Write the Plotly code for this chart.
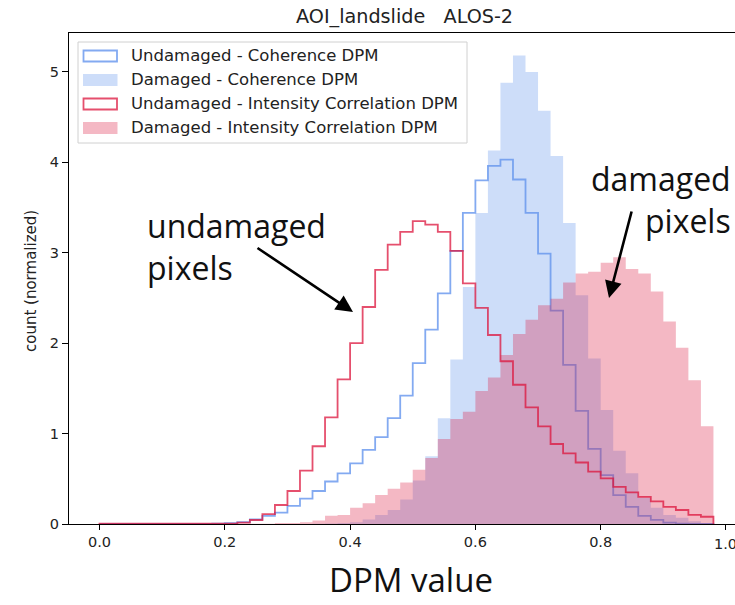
import plotly.graph_objects as go

# ---------------- data (bin width 0.02, bins 0.00 .. 0.98) ----------------
bin_width = 0.02
n_bins = 49
edges = [round(i * bin_width, 2) for i in range(n_bins + 1)]

undamaged_coherence = [0, 0, 0, 0, 0, 0, 0, 0, 0, 0.003,
                       0.01, 0.02, 0.05, 0.09, 0.125, 0.2, 0.28, 0.365, 0.47, 0.56,
                       0.67, 0.82, 0.96, 1.17, 1.42, 1.78, 2.15, 2.55, 3.02, 3.44,
                       3.80, 3.96, 4.03, 3.81, 3.44, 2.99, 2.36, 1.76, 1.25, 0.83,
                       0.54, 0.32, 0.19, 0.09, 0.045, 0.015, 0.005, 0.002, 0.001]

damaged_coherence = [0, 0, 0, 0, 0, 0, 0, 0, 0, 0,
                     0, 0, 0, 0, 0, 0, 0, 0.003, 0.005, 0.01,
                     0.02, 0.05, 0.10, 0.155, 0.27, 0.48, 0.75, 1.17, 1.82, 2.62,
                     3.44, 4.13, 4.88, 5.18, 5.00, 4.57, 4.07, 3.33, 2.53, 1.83,
                     1.26, 0.81, 0.56, 0.29, 0.18, 0.10, 0.07, 0.03, 0.01]

undamaged_intensity = [0.004, 0.004, 0.004, 0.004, 0.004, 0.004, 0.004, 0.004, 0.004, 0.004,
                       0.005, 0.015, 0.044, 0.11, 0.21, 0.365, 0.59, 0.86, 1.18, 1.60,
                       2.00, 2.40, 2.81, 3.09, 3.23, 3.35, 3.31, 3.23, 3.02, 2.66,
                       2.39, 2.09, 1.80, 1.54, 1.29, 1.08, 0.885, 0.78, 0.68, 0.58,
                       0.505, 0.41, 0.35, 0.30, 0.25, 0.19, 0.155, 0.10, 0.08]

damaged_intensity = [0.003, 0.003, 0.003, 0.003, 0.003, 0.003, 0.003, 0.003, 0.003, 0.003,
                     0.003, 0.003, 0.003, 0.003, 0.01, 0.01, 0.02, 0.04, 0.09, 0.10,
                     0.18, 0.23, 0.32, 0.39, 0.46, 0.60, 0.73, 0.94, 1.16, 1.24,
                     1.47, 1.62, 1.87, 2.10, 2.26, 2.42, 2.49, 2.67, 2.77, 2.79,
                     2.89, 2.95, 2.82, 2.77, 2.57, 2.24, 1.95, 1.59, 1.08]

series_names = ["Undamaged - Coherence DPM", "Damaged - Coherence DPM",
                "Undamaged - Intensity Correlation DPM", "Damaged - Intensity Correlation DPM"]
x_ticks = [0.0, 0.2, 0.4, 0.6, 0.8, 1.0]
x_tick_labels = ["0.0", "0.2", "0.4", "0.6", "0.8", "1.0"]
y_ticks = [0, 1, 2, 3, 4, 5]

# ---------------- styles ----------------
BLUE_LINE = "rgba(100,149,237,0.80)"
BLUE_FILL = "rgba(100,149,237,0.32)"
RED_LINE = "rgba(220,20,60,0.75)"
RED_FILL = "rgba(220,20,60,0.30)"
FONT = "DejaVu Sans"
BIG = "Open Sans"
TICK_SIZE = 14.5


def step_xy(values):
    xs = [edges[0]] + edges
    ys = [0] + list(values) + [0]
    return xs, ys


fig = go.Figure()

specs = [
    (undamaged_coherence, "line", BLUE_LINE),
    (damaged_coherence, "fill", BLUE_FILL),
    (undamaged_intensity, "line", RED_LINE),
    (damaged_intensity, "fill", RED_FILL),
]
for (vals, kind, col), name in zip(specs, series_names):
    xs, ys = step_xy(vals)
    if kind == "line":
        fig.add_trace(go.Scatter(x=xs, y=ys, mode="lines", name=name,
                                 line=dict(color=col, width=1.8, shape="hv"),
                                 showlegend=False, hoverinfo="skip"))
    else:
        fig.add_trace(go.Scatter(x=xs, y=ys, mode="lines", name=name,
                                 line=dict(color="rgba(0,0,0,0)", width=0, shape="hv"),
                                 fill="tozeroy", fillcolor=col,
                                 showlegend=False, hoverinfo="skip"))

# ---------------- layout geometry ----------------
W, H = 735, 605
L, R, T, B = 69, 0, 33, 81
pw, ph = W - L - R, H - T - B


def px(xpix):
    return (xpix - L) / pw


def py(ypix):
    return (H - B - ypix) / ph


shapes = []
annotations = []

# legend box
shapes.append(dict(type="rect", xref="paper", yref="paper",
                   x0=px(78), x1=px(467), y0=py(143), y1=py(42),
                   line=dict(color="#d0d0d0", width=1), fillcolor="rgba(255,255,255,0.85)",
                   layer="above"))
rows = [56, 80, 104, 128]
legend_styles = [("line", BLUE_LINE), ("fill", BLUE_FILL), ("line", RED_LINE), ("fill", RED_FILL)]
for (kind, col), name, ry in zip(legend_styles, series_names, rows):
    if kind == "line":
        shapes.append(dict(type="rect", xref="paper", yref="paper",
                           x0=px(83.5), x1=px(117), y0=py(ry + 5.5), y1=py(ry - 5.5),
                           line=dict(color=col, width=1.8), fillcolor="rgba(0,0,0,0)",
                           layer="above"))
    else:
        shapes.append(dict(type="rect", xref="paper", yref="paper",
                           x0=px(83), x1=px(117.5), y0=py(ry + 6), y1=py(ry - 6),
                           line=dict(width=0), fillcolor=col, layer="above"))
    annotations.append(dict(text=name, xref="paper", yref="paper", x=px(129), y=py(ry),
                            xanchor="left", yanchor="middle", showarrow=False,
                            font=dict(family=FONT, size=16.5, color="#222222")))

# title
annotations.append(dict(text="AOI_landslide   ALOS-2", xref="paper", yref="paper",
                        x=px(405), y=py(16.5), xanchor="center", yanchor="middle",
                        showarrow=False, font=dict(family=FONT, size=19.2, color="#222222")))
# y label
annotations.append(dict(text="count (normalized)", xref="paper", yref="paper",
                        x=px(31), y=py(281), xanchor="center", yanchor="middle",
                        textangle=-90, showarrow=False,
                        font=dict(family=FONT, size=15, color="#222222")))
# x label
annotations.append(dict(text="DPM value", xref="paper", yref="paper",
                        x=px(411), y=py(604), xanchor="center", yanchor="bottom",
                        showarrow=False, font=dict(family=BIG, size=33, color="#111111")))
# last x tick label (partly cut by the right edge, as in the original)
annotations.append(dict(text=x_tick_labels[-1], xref="x", yref="paper", x=x_ticks[-1],
                        y=py(544), xanchor="center", yanchor="middle", showarrow=False,
                        font=dict(family=FONT, size=TICK_SIZE, color="#222222")))
# callout texts
annotations.append(dict(text="undamaged<br>pixels", xref="paper", yref="paper",
                        x=px(145), y=py(246), xanchor="left", yanchor="middle", align="left",
                        showarrow=False, font=dict(family=BIG, size=32, color="#111111")))
annotations.append(dict(text="damaged<br>pixels", xref="paper", yref="paper",
                        x=px(733), y=py(200), xanchor="right", yanchor="middle", align="right",
                        showarrow=False, font=dict(family=BIG, size=32, color="#111111")))
# arrows
for tip, tail in [((353, 312), (256, 247)), ((609, 298), (632, 210))]:
    annotations.append(dict(text="", xref="paper", yref="paper", x=px(tip[0]), y=py(tip[1]),
                            ax=tail[0] - tip[0], ay=tail[1] - tip[1], showarrow=True,
                            arrowhead=2, arrowsize=1.3, arrowwidth=2.6, arrowcolor="black",
                            standoff=0))

fig.update_layout(
    width=W, height=H, autosize=False,
    margin=dict(l=L, r=R, t=T, b=B, pad=0),
    paper_bgcolor="white", plot_bgcolor="white",
    showlegend=False,
    shapes=shapes, annotations=annotations,
    xaxis=dict(range=[-0.0487, 1.0144], tickvals=x_ticks, ticktext=x_tick_labels,
               showgrid=False, zeroline=False, showline=True, linecolor="black", linewidth=1,
               mirror=True, ticks="outside", ticklen=5, tickwidth=1, tickcolor="black",
               tickfont=dict(family=FONT, size=TICK_SIZE, color="#222222")),
    yaxis=dict(range=[0, 5.43], tickvals=y_ticks,
               showgrid=False, zeroline=False, showline=True, linecolor="black", linewidth=1,
               ticks="outside", ticklen=6, tickwidth=1, tickcolor="black",
               tickfont=dict(family=FONT, size=TICK_SIZE, color="#222222")),
)

fig.write_html("out.html", config={"displayModeBar": False})
